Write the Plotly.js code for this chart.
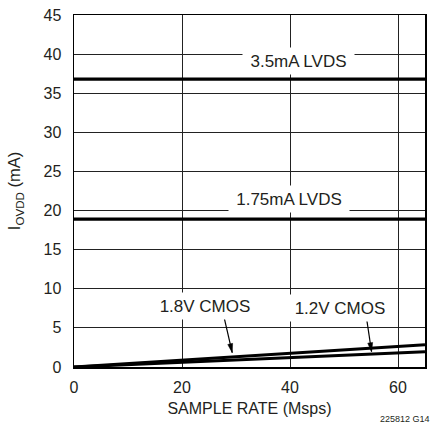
<!DOCTYPE html>
<html><head><meta charset="utf-8">
<script src="https://cdn.plot.ly/plotly-3.0.1.min.js"></script>
<style>html,body{margin:0;padding:0;background:#fff;}#chart{width:433px;height:428px;}</style>
</head><body><div id="chart"></div>
<script>
var sampleRate = [0, 65];
var lvds35 = [36.8, 36.8];
var lvds175 = [18.9, 18.9];
var cmos18 = [0, 2.85];
var cmos12 = [0, 1.95];
var xTicks = [0, 20, 40, 60];
var yTicks = [0, 5, 10, 15, 20, 25, 30, 35, 40, 45];

var F = 'Liberation Sans, Arial, sans-serif';
var C = '#231f20';
function tr(y, w) { return {x: sampleRate, y: y, mode: 'lines', line: {color: '#000', width: w}, hoverinfo: 'skip', showlegend: false}; }
var data = [tr(lvds35, 3.2), tr(lvds175, 3.2), tr(cmos18, 3), tr(cmos12, 3)];

function lab(t, x, y, w) { return {x: x, y: y, xref: 'x', yref: 'y', text: t, showarrow: false, bgcolor: '#fff', borderpad: 0, width: w, height: 26, font: {family: F, size: 17, color: C}}; }
// arrow: tip anchored in data space, tail and head drawn in pixel offsets (y up)
function arrowShapes(x, y, tx, ty, head) {
  return [
    {type: 'line', xref: 'x', yref: 'y', xsizemode: 'pixel', ysizemode: 'pixel', xanchor: x, yanchor: y,
     x0: tx, y0: ty, x1: 0, y1: 0, line: {color: '#000', width: 1.2}},
    {type: 'path', xref: 'x', yref: 'y', xsizemode: 'pixel', ysizemode: 'pixel', xanchor: x, yanchor: y,
     path: head, fillcolor: '#000', line: {color: '#000', width: 0.5}}
  ];
}
var shapes = [].concat(
  arrowShapes(29.3, 1.83, -8.3, 36, 'M0,0 L0.41,9.32 L-4.45,8.2 Z'),
  arrowShapes(55.1, 1.96, -5, 33.4, 'M0,0 L1.14,9.27 L-3.8,8.53 Z')
);

var layout = {
  width: 433, height: 428,
  margin: {l: 74, r: 8, t: 15, b: 61},
  paper_bgcolor: '#fff', plot_bgcolor: '#fff',
  font: {family: F, size: 16, color: C},
  xaxis: {range: [0, 65], tickvals: xTicks, showgrid: true, gridcolor: '#222', gridwidth: 1,
    zeroline: false, showline: true, mirror: true, linecolor: '#000', linewidth: 1.5,
    ticks: '', ticklabelstandoff: 5, tickfont: {family: F, size: 16, color: C}, fixedrange: true,
    title: {text: 'SAMPLE RATE (Msps)', standoff: 8, font: {family: F, size: 16, color: C}}},
  yaxis: {range: [0, 45], tickvals: yTicks, showgrid: true, gridcolor: '#222', gridwidth: 1,
    zeroline: false, showline: true, mirror: true, linecolor: '#000', linewidth: 1.5,
    ticks: '', ticklabelstandoff: 8, tickfont: {family: F, size: 16, color: C}, fixedrange: true,
    title: {text: 'I<sub>OVDD</sub> (mA)', standoff: 18, font: {family: F, size: 16.5, color: C}}},
  shapes: shapes,
  annotations: [
    lab('3.5mA LVDS', 41.5, 39.1, 111),
    lab('1.75mA LVDS', 39.8, 21.5, 120),
    lab('1.8V CMOS', 24.3, 7.8, 100),
    lab('1.2V CMOS', 49.3, 7.6, 100),
    {xref: 'paper', yref: 'paper', x: 1.02, y: -0.148, xanchor: 'right', yanchor: 'middle',
     text: '225812 G14', showarrow: false, font: {family: F, size: 9, color: C}}
  ]
};
Plotly.newPlot('chart', data, layout, {staticPlot: true, displayModeBar: false});
</script></body></html>
